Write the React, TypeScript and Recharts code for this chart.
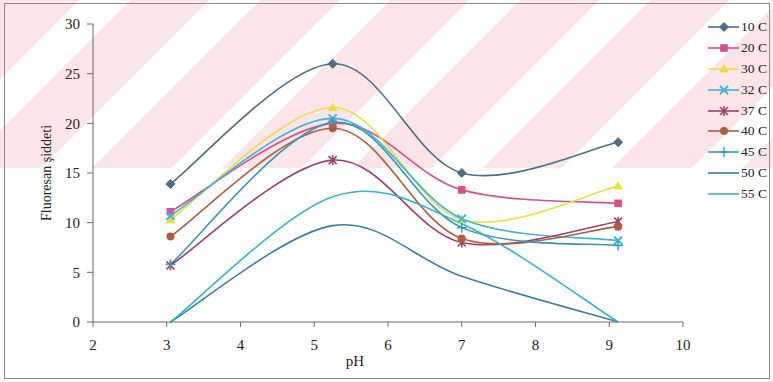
import React from 'react';
import { LineChart, Line, XAxis, YAxis } from 'recharts';

const PH = [3.05, 5.25, 7.0, 9.12];
const C10 = [13.9, 26.0, 15.0, 18.1];
const C20 = [11.1, 20.0, 13.3, 11.95];
const C30 = [10.3, 21.6, 10.3, 13.7];
const C32 = [10.7, 20.5, 10.4, 8.2];
const C37 = [5.7, 16.3, 8.0, 10.1];
const C40 = [8.6, 19.5, 8.4, 9.6];
const C45 = [5.8, 20.1, 9.5, 7.7];
const C50 = [0, 9.7, 4.6, 0];
const C55 = [0, 12.6, 9.9, 0];

const X_TICKS = [2, 3, 4, 5, 6, 7, 8, 9, 10];
const Y_TICKS = [0, 5, 10, 15, 20, 25, 30];

const SERIES = [
  { key: 'c10', name: '10 C', values: C10, color: '#4d6e86', marker: 'diamond' },
  { key: 'c20', name: '20 C', values: C20, color: '#d8508a', marker: 'square' },
  { key: 'c30', name: '30 C', values: C30, color: '#ecdf3c', marker: 'triangle' },
  { key: 'c32', name: '32 C', values: C32, color: '#3fb4d8', marker: 'x' },
  { key: 'c37', name: '37 C', values: C37, color: '#9c3f6e', marker: 'star' },
  { key: 'c40', name: '40 C', values: C40, color: '#ad5e3c', marker: 'circle' },
  { key: 'c45', name: '45 C', values: C45, color: '#3399b4', marker: 'plus' },
  { key: 'c50', name: '50 C', values: C50, color: '#3a7ca6', marker: 'none' },
  { key: 'c55', name: '55 C', values: C55, color: '#33b2d4', marker: 'none' },
];

const data = PH.map((ph, i) => {
  const row: any = { ph };
  SERIES.forEach((s) => { row[s.key] = s.values[i]; });
  return row;
});

// Excel-like smoothed line (Catmull-Rom style bezier)
const excelCurve = (context: any) => {
  let pts: number[][] = [];
  return {
    areaStart() {},
    areaEnd() {},
    lineStart() { pts = []; },
    point(x: number, y: number) { pts.push([+x, +y]); },
    lineEnd() {
      const n = pts.length;
      if (!n) return;
      context.moveTo(pts[0][0], pts[0][1]);
      for (let i = 0; i < n - 1; i++) {
        const p0 = pts[i - 1] || pts[i];
        const p1 = pts[i];
        const p2 = pts[i + 1];
        const p3 = pts[i + 2] || pts[i + 1];
        context.bezierCurveTo(
          p1[0] + (p2[0] - p0[0]) / 6, p1[1] + (p2[1] - p0[1]) / 6,
          p2[0] - (p3[0] - p1[0]) / 6, p2[1] - (p3[1] - p1[1]) / 6,
          p2[0], p2[1]
        );
      }
    },
  };
};

function Marker({ type, cx, cy, color }: any) {
  switch (type) {
    case 'diamond':
      return <polygon points={`${cx},${cy - 4.5} ${cx + 4.5},${cy} ${cx},${cy + 4.5} ${cx - 4.5},${cy}`} fill={color} stroke={color} />;
    case 'square':
      return <rect x={cx - 3.8} y={cy - 3.8} width={7.6} height={7.6} fill={color} />;
    case 'triangle':
      return <polygon points={`${cx},${cy - 5} ${cx + 4.8},${cy + 3.5} ${cx - 4.8},${cy + 3.5}`} fill={color} />;
    case 'x':
      return (
        <g stroke={color} strokeWidth={2}>
          <line x1={cx - 4} y1={cy - 4} x2={cx + 4} y2={cy + 4} />
          <line x1={cx - 4} y1={cy + 4} x2={cx + 4} y2={cy - 4} />
        </g>
      );
    case 'star':
      return (
        <g stroke={color} strokeWidth={1.6}>
          <line x1={cx - 4} y1={cy - 4} x2={cx + 4} y2={cy + 4} />
          <line x1={cx - 4} y1={cy + 4} x2={cx + 4} y2={cy - 4} />
          <line x1={cx} y1={cy - 5} x2={cx} y2={cy + 5} />
        </g>
      );
    case 'circle':
      return <circle cx={cx} cy={cy} r={4} fill={color} />;
    case 'plus':
      return (
        <g stroke={color} strokeWidth={1.4}>
          <line x1={cx - 5} y1={cy} x2={cx + 5} y2={cy} />
          <line x1={cx} y1={cy - 5} x2={cx} y2={cy + 5} />
        </g>
      );
    default:
      return null;
  }
}

const makeDot = (s: any) => (props: any) => {
  const { cx, cy, index } = props;
  if (s.marker === 'none' || cx == null || cy == null) return <g key={`${s.key}-${index}`} />;
  return <g key={`${s.key}-${index}`}><Marker type={s.marker} cx={cx} cy={cy} color={s.color} /></g>;
};

const FONT = '"Liberation Serif", "DejaVu Serif", serif';

export default function App() {
  return (
    <div style={{ position: 'absolute', left: 0, top: 0, width: 773, height: 382, background: '#fff', overflow: 'hidden', fontFamily: FONT }}>
      <div
        style={{
          position: 'absolute', left: 0, top: 0, width: 773, height: 168,
          background: 'repeating-linear-gradient(135deg, #fce5e8 0px, #fce5e8 56px, #ffffff 56px, #ffffff 92px)',
        }}
      />
      <div style={{ position: 'absolute', left: 4, top: 3, width: 766, height: 376, border: '1px solid #8a8a8a', boxSizing: 'border-box' }} />
      <div style={{ position: 'absolute', left: 0, top: 0 }}>
        <LineChart width={773} height={382} data={data} margin={{ top: 24, right: 90, bottom: 10, left: 33 }} style={{ fontFamily: FONT }}>
          <XAxis
            dataKey="ph"
            type="number"
            domain={[2, 10]}
            ticks={X_TICKS}
            interval={0}
            height={50}
            tickSize={5}
            tickMargin={12}
            stroke="#6a6a6a"
            tick={{ fill: '#222', fontSize: 15, fontFamily: FONT }}
            label={{ value: 'pH', position: 'insideBottom', offset: 6, dx: -33, fill: '#222', fontSize: 15, fontFamily: FONT }}
          />
          <YAxis
            type="number"
            domain={[0, 30]}
            ticks={Y_TICKS}
            interval={0}
            width={60}
            tickSize={6}
            tickMargin={7}
            stroke="#6a6a6a"
            tick={{ fill: '#222', fontSize: 15, fontFamily: FONT }}
            label={{ value: 'Fluoresan şiddeti', angle: -90, position: 'insideLeft', offset: 13, fill: '#222', fontSize: 14, fontFamily: FONT, style: { textAnchor: 'middle' } }}
          />
          {SERIES.map((s) => (
            <Line
              key={s.key}
              dataKey={s.key}
              name={s.name}
              type={excelCurve as any}
              stroke={s.color}
              strokeWidth={1.6}
              dot={makeDot(s)}
              activeDot={false}
              isAnimationActive={false}
            />
          ))}
        </LineChart>
      </div>
      <div style={{ position: 'absolute', left: 704, top: 17 }}>
        {SERIES.map((s) => (
          <div key={s.key} style={{ display: 'flex', alignItems: 'center', height: 20.8 }}>
            <svg width={36} height={14} style={{ display: 'block' }}>
              <line x1={4} y1={7} x2={35} y2={7} stroke={s.color} strokeWidth={1.6} />
              <Marker type={s.marker} cx={20} cy={7} color={s.color} />
            </svg>
            <span style={{ fontSize: 13.5, color: '#222', marginLeft: 1, lineHeight: '14px', whiteSpace: 'nowrap' }}>{s.name}</span>
          </div>
        ))}
      </div>
    </div>
  );
}
